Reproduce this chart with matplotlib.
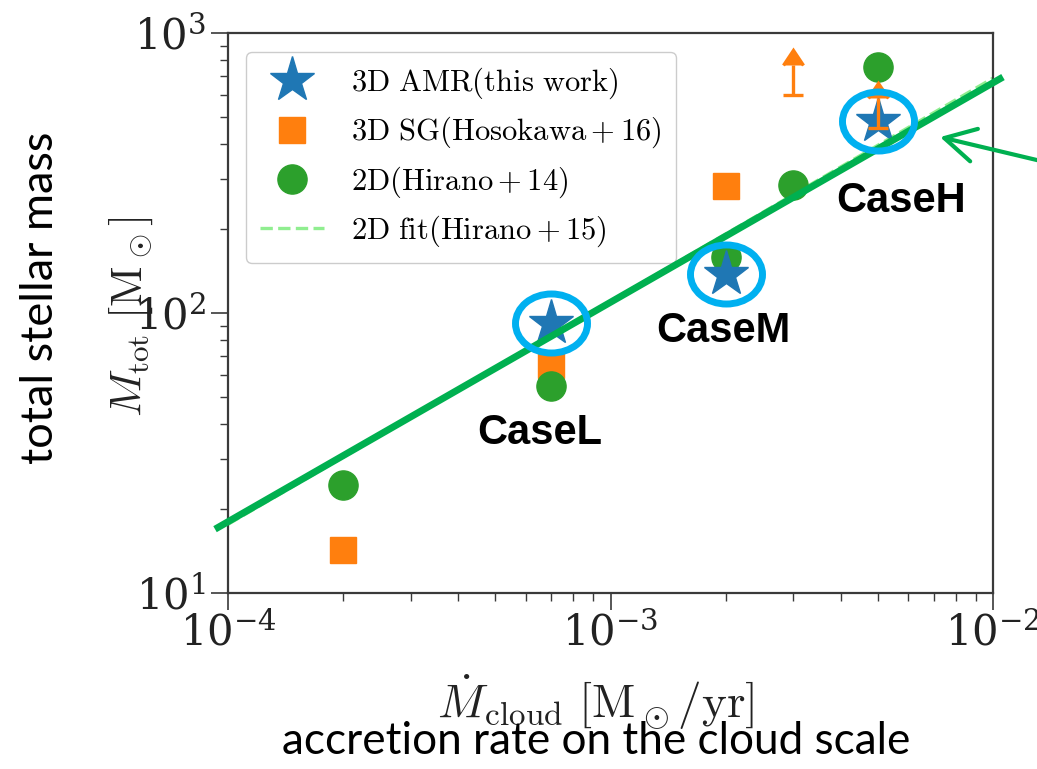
import matplotlib
matplotlib.use('Agg')
import matplotlib.pyplot as plt
from matplotlib.markers import MarkerStyle
from matplotlib.transforms import Affine2D

plt.rcParams['mathtext.fontset'] = 'cm'
plt.rcParams['font.family'] = 'DejaVu Serif'

# 3D AMR (this work): CaseL, CaseM, CaseH
amr_x = [7e-4, 2e-3, 5e-3]
amr_y = [92, 138, 486]
case_names = ['CaseL', 'CaseM', 'CaseH']
case_offsets = [(-8.6, -87), (-2, -49), (16.6, -65.8)]   # points, label baseline

# 3D SG (Hosokawa+16)
sg_x = [2e-4, 7e-4, 2e-3]
sg_y = [14.2, 65, 284]
# lower limits
sg_lim_x = [3e-3, 5e-3]
sg_lim_y = [600, 458]
sg_lim_err = [169, 130]

# 2D (Hirano+14)
h14_x = [2e-4, 7e-4, 2e-3, 3e-3, 5e-3]
h14_y = [24.3, 55, 158, 287, 756]

# 2D fit (Hirano+15)
fit_x = [1e-4, 1e-2]
fit_y = [17.6, 690]

# hand drawn green line on top of the figure
note_x = [10 ** -4.034, 10 ** -1.974]
note_y = [16.9, 696]

ORANGE = '#ff7f0e'

fig = plt.figure(figsize=(10.37, 7.69), dpi=100)
ax = fig.add_axes([0.2199, 0.2289, 0.7377, 0.7282])
ax.set_xscale('log')
ax.set_yscale('log')
ax.set_xlim(1e-4, 1e-2)
ax.set_ylim(10, 1000)

l_amr, = ax.plot(amr_x, amr_y, ls='none', marker='*', ms=34, color='#1f77b4', zorder=4,
                 label=r'$\mathrm{3D\ AMR(this\ work)}$')
l_sg, = ax.plot(sg_x, sg_y, ls='none', marker='s', ms=19, color=ORANGE, zorder=2,
                label=r'$\mathrm{3D\ SG(Hosokawa}+\mathrm{16)}$')
eb = ax.errorbar(sg_lim_x, sg_lim_y, yerr=sg_lim_err, lolims=True, fmt='none',
                 ecolor=ORANGE, elinewidth=2.4, capsize=7, capthick=2.4, zorder=5)
for cl in eb[1]:
    cl.set_markerfacecolor(ORANGE)
    cl.set_markeredgecolor(ORANGE)
l_h14, = ax.plot(h14_x, h14_y, ls='none', marker='o', ms=21, color='#2ca02c', zorder=3,
                 label=r'$\mathrm{2D(Hirano}+\mathrm{14)}$')
l_fit, = ax.plot(fit_x, fit_y, ls='--', lw=2.4, color='#90ee90', zorder=1,
                 label=r'$\mathrm{2D\ fit(Hirano}+\mathrm{15)}$')

leg = ax.legend(handles=[l_amr, l_sg, l_h14, l_fit], loc='upper left',
                bbox_to_anchor=(0.0235, 0.966), borderaxespad=0, fontsize=22,
                numpoints=1, handlelength=2.1, handletextpad=0.9, labelspacing=0.45,
                borderpad=0.45, framealpha=1, edgecolor='#cccccc', fancybox=True)

# overlay: green line, circles, case labels, arrow
ax.plot(note_x, note_y, color='#00b050', lw=5, solid_capstyle='butt', clip_on=False, zorder=6)
ring = MarkerStyle('o', fillstyle='none', transform=Affine2D().scale(1.22, 1.0))
ax.plot(amr_x, amr_y, ls='none', marker=ring, ms=42.5, mec='#00b0f0', mew=5,
        clip_on=False, zorder=7)
for x, y, name, off in zip(amr_x, amr_y, case_names, case_offsets):
    ax.annotate(name, xy=(x, y), xytext=off, textcoords='offset points',
                ha='center', va='baseline', fontsize=30, fontweight='bold',
                family='Liberation Sans', color='black', zorder=8)
ax.annotate('', xy=(7.27e-3, 425), xytext=(0.0137, 346), annotation_clip=False,
            arrowprops=dict(arrowstyle='->,head_length=0.55,head_width=0.3', color='#00b050',
                            lw=3, mutation_scale=40, shrinkA=0, shrinkB=0), zorder=8)

for s in ax.spines.values():
    s.set_color('#3a3a3a')
    s.set_linewidth(1.6)
ax.tick_params(which='major', direction='out', length=12, width=1.2, labelsize=30,
               top=False, right=False, colors='#3a3a3a', labelcolor='#222222')
ax.tick_params(which='minor', direction='out', length=6, width=1.0,
               top=False, right=False, colors='#3a3a3a')
ax.tick_params(axis='x', which='major', pad=2)
ax.tick_params(axis='y', which='major', pad=4)

ax.set_xlabel(r'$\dot{M}_{\rm cloud}\ [{\rm M_\odot/yr}]$', fontsize=34, color='#222222')
ax.set_ylabel(r'$M_{\rm tot}\ [{\rm M_\odot}]$', fontsize=32, color='#222222')
ax.xaxis.set_label_coords(0.48, -0.141)
ax.yaxis.set_label_coords(-0.096, 0.493)

fig.text(596 / 1037, 1 - 742 / 769, 'accretion rate on the cloud scale', ha='center', va='center',
         fontsize=31.8, family='Lato', color='black')
fig.text(41 / 1037, 1 - 298 / 769, 'total stellar mass', ha='center', va='center',
         rotation=90, fontsize=32.5, family='Lato', color='black')

fig.savefig('out.png', dpi=100)
